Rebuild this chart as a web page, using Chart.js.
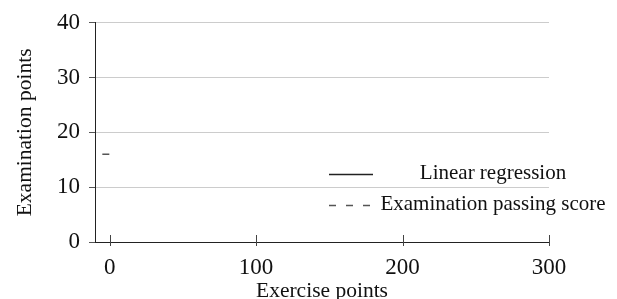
<!DOCTYPE html>
<html>
<head>
<meta charset="utf-8">
<script src="https://cdn.jsdelivr.net/npm/chart.js@4.4.0/dist/chart.umd.min.js"></script>
<style>
  html, body { margin: 0; padding: 0; background: #fff; }
  #wrap { width: 617px; height: 299px; }
</style>
</head>
<body>
<div id="wrap"><canvas id="examChart" width="617" height="299"></canvas></div>
<script>
// Axis ranges and ticks
const xRange = [-10, 300];
const yRange = [0, 40];
const xTicks = [0, 100, 200, 300];
const yTicks = [0, 10, 20, 30, 40];

// Series
const regressionX = [];
const regressionY = [];
const passingX = [-5, 0];
const passingY = [16, 16];

const seriesLabels = ['Linear regression', 'Examination passing score'];

const FONT = "'Liberation Serif', 'DejaVu Serif', serif";

// Legend drawn inside the plot, no box (like the pgfplots original)
const insideLegend = {
  id: 'insideLegend',
  afterDraw(chart) {
    const ctx = chart.ctx;
    const rows = [174, 205];
    ctx.save();
    ctx.font = '21px ' + FONT;
    ctx.fillStyle = '#111';
    ctx.textAlign = 'center';
    ctx.textBaseline = 'middle';
    chart.data.datasets.forEach((ds, i) => {
      const y = rows[i];
      ctx.beginPath();
      ctx.strokeStyle = ds.borderColor;
      ctx.lineWidth = 1.4;
      ctx.setLineDash(ds.borderDash || []);
      ctx.moveTo(329, y + 0.5);
      ctx.lineTo(373, y + 0.5);
      ctx.stroke();
      ctx.setLineDash([]);
      ctx.fillText(ds.label, 493, y - 1);
    });
    ctx.restore();
  }
};

// x tick marks crossing the bottom axis
const xTickMarks = {
  id: 'xTickMarks',
  afterDraw(chart) {
    const ctx = chart.ctx;
    const xs = chart.scales.x;
    const bottom = chart.chartArea.bottom;
    ctx.save();
    ctx.strokeStyle = '#444';
    ctx.lineWidth = 1;
    xTicks.forEach(v => {
      const px = Math.round(xs.getPixelForValue(v)) + 0.5;
      ctx.beginPath();
      ctx.moveTo(px, bottom - 7);
      ctx.lineTo(px, bottom + 4);
      ctx.stroke();
    });
    ctx.restore();
  }
};

new Chart(document.getElementById('examChart').getContext('2d'), {
  type: 'scatter',
  data: {
    datasets: [
      {
        label: seriesLabels[0],
        data: regressionX.map((x, i) => ({ x, y: regressionY[i] })),
        showLine: true,
        borderColor: '#222',
        borderWidth: 1.2,
        pointRadius: 0,
        borderDash: []
      },
      {
        label: seriesLabels[1],
        data: passingX.map((x, i) => ({ x, y: passingY[i] })),
        showLine: true,
        borderColor: '#555',
        borderWidth: 1.5,
        pointRadius: 0,
        borderDash: [7, 10]
      }
    ]
  },
  options: {
    responsive: false,
    animation: false,
    layout: { padding: { top: 22, right: 68, left: 0, bottom: 0 } },
    plugins: {
      legend: { display: false },
      tooltip: { enabled: false }
    },
    scales: {
      x: {
        type: 'linear',
        min: xRange[0],
        max: xRange[1],
        afterBuildTicks: s => { s.ticks = xTicks.map(v => ({ value: v })); },
        afterFit: s => { s.height = 57; },
        grid: { display: false },
        border: { display: true, color: '#222', width: 1 },
        ticks: {
          color: '#111',
          padding: 4,
          font: { family: FONT, size: 23 }
        },
        title: {
          display: true,
          text: 'Exercise points',
          color: '#111',
          padding: { top: 0, bottom: -5 },
          font: { family: FONT, size: 21.5 }
        }
      },
      y: {
        type: 'linear',
        min: yRange[0],
        max: yRange[1],
        afterBuildTicks: s => { s.ticks = yTicks.map(v => ({ value: v })); },
        afterFit: s => { s.width = 95; },
        grid: {
          color: '#cccccc',
          tickColor: '#555',
          tickLength: 6,
          drawTicks: true
        },
        border: { display: true, color: '#222', width: 1 },
        ticks: {
          color: '#111',
          padding: 9,
          font: { family: FONT, size: 23 }
        },
        title: {
          display: true,
          text: 'Examination points',
          color: '#111',
          padding: { top: 12, bottom: 0 },
          font: { family: FONT, size: 21.5 }
        }
      }
    }
  },
  plugins: [insideLegend, xTickMarks]
});
</script>
</body>
</html>
